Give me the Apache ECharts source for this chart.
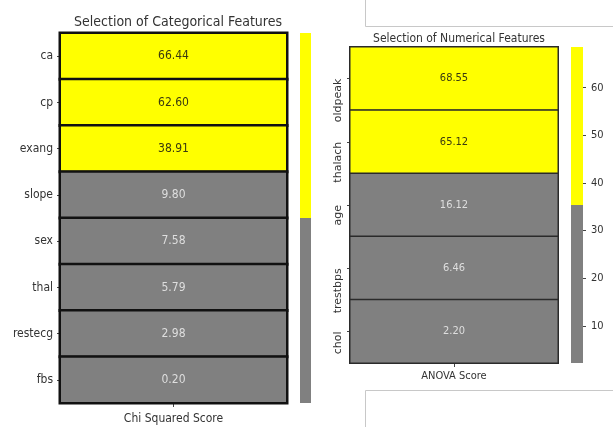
<!DOCTYPE html>
<html>
<head>
<meta charset="utf-8">
<script src="https://cdn.jsdelivr.net/npm/echarts@6/dist/echarts.min.js"></script>
<style>
  html, body { margin: 0; padding: 0; background: #fff; }
  #chart { width: 613px; height: 427px; }
</style>
</head>
<body>
<div id="chart"></div>
<script>
// Chi-squared scores of the categorical features
const catFeatures = ['ca', 'cp', 'exang', 'slope', 'sex', 'thal', 'restecg', 'fbs'];
const catScores = [66.44, 62.60, 38.91, 9.80, 7.58, 5.79, 2.98, 0.20];
const catColumn = ['Chi Squared Score'];

// ANOVA F-scores of the numerical features
const numFeatures = ['oldpeak', 'thalach', 'age', 'trestbps', 'chol'];
const numScores = [68.55, 65.12, 16.12, 6.46, 2.20];
const numColumn = ['ANOVA Score'];
const numBarTicks = [10, 20, 30, 40, 50, 60];

const YELLOW = '#ffff00';
const GRAY = '#808080';
const FONT = 'DejaVu Sans Condensed, DejaVu Sans, sans-serif';
const FONT_V = 'DejaVu Sans, sans-serif';

// two-colour map: values above the midpoint of the range are yellow
function rangeOf(vals) {
  const lo = Math.min(...vals), hi = Math.max(...vals);
  return { lo, hi, mid: (lo + hi) / 2 };
}
const catR = rangeOf(catScores);
const numR = rangeOf(numScores);

function cells(vals, r) {
  return vals.map((v, i) => ({
    value: [0, i, v],
    label: { color: v >= r.mid ? '#3a3a10' : '#dedede' }
  }));
}

const chart = echarts.init(document.getElementById('chart'));

chart.setOption({
  backgroundColor: '#fff',
  animation: false,
  textStyle: { fontFamily: FONT },
  title: [
    { text: 'Selection of Categorical Features', left: 173, top: 10, textAlign: 'center',
      textStyle: { fontSize: 14, fontWeight: 'normal', color: '#333', fontFamily: FONT } },
    { text: 'Selection of Numerical Features', left: 454, top: 28, textAlign: 'center',
      textStyle: { fontSize: 12, fontWeight: 'normal', color: '#333', fontFamily: FONT } }
  ],
  grid: [
    { left: 60, top: 33, width: 227, height: 370, show: true, borderColor: '#222', borderWidth: 1 },
    { left: 300, top: 33, width: 11, height: 370 },
    { left: 350, top: 47, width: 208, height: 316, show: true, borderColor: '#333', borderWidth: 1 },
    { left: 571, top: 47, width: 12, height: 316 }
  ],
  xAxis: [
    { type: 'category', gridIndex: 0, data: catColumn,
      axisLine: { show: false },
      axisTick: { show: true, alignWithLabel: true, length: 4, lineStyle: { color: '#444' } },
      axisLabel: { fontSize: 12, color: '#333', margin: 10, fontFamily: FONT },
      splitLine: { show: false } },
    { type: 'category', gridIndex: 1, data: [''], show: false },
    { type: 'category', gridIndex: 2, data: numColumn,
      axisLine: { show: false },
      axisTick: { show: true, alignWithLabel: true, length: 4, lineStyle: { color: '#444' } },
      axisLabel: { fontSize: 11, color: '#333', margin: 8, fontFamily: FONT },
      splitLine: { show: false } },
    { type: 'category', gridIndex: 3, data: [''], show: false }
  ],
  yAxis: [
    { type: 'category', gridIndex: 0, data: catFeatures, inverse: true,
      axisLine: { show: false },
      axisTick: { show: true, alignWithLabel: true, length: 3, lineStyle: { color: '#444' } },
      axisLabel: { fontSize: 12, color: '#333', margin: 7, fontFamily: FONT },
      splitLine: { show: false } },
    { type: 'value', gridIndex: 1, min: catR.lo, max: catR.hi, show: false },
    { type: 'category', gridIndex: 2, data: numFeatures, inverse: true,
      axisLine: { show: false },
      axisTick: { show: true, alignWithLabel: true, length: 3, lineStyle: { color: '#444' } },
      axisLabel: { fontSize: 11, color: '#333', margin: 12, rotate: 90,
        align: 'right', verticalAlign: 'middle', fontFamily: FONT_V },
      splitLine: { show: false } },
    { type: 'value', gridIndex: 3, min: numR.lo, max: numR.hi, position: 'right',
      axisLine: { show: false },
      splitLine: { show: false },
      axisTick: { show: true, length: 3, customValues: numBarTicks, lineStyle: { color: '#444' } },
      axisLabel: { show: true, customValues: numBarTicks, fontSize: 11, color: '#333',
        margin: 8, fontFamily: FONT } }
  ],
  visualMap: [
    { type: 'piecewise', show: false, seriesIndex: 0, dimension: 2,
      pieces: [{ gte: catR.mid, color: YELLOW }, { lt: catR.mid, color: GRAY }] },
    { type: 'piecewise', show: false, seriesIndex: 3, dimension: 2,
      pieces: [{ gte: numR.mid, color: YELLOW }, { lt: numR.mid, color: GRAY }] }
  ],
  series: [
    // categorical heatmap
    { type: 'heatmap', xAxisIndex: 0, yAxisIndex: 0, data: cells(catScores, catR),
      itemStyle: { borderColor: '#111', borderWidth: 2.5 },
      label: { show: true, fontSize: 12, fontFamily: FONT,
        formatter: p => p.value[2].toFixed(2) },
      emphasis: { disabled: true } },
    // its colour bar
    { type: 'bar', xAxisIndex: 1, yAxisIndex: 1, stack: 'cb1', barWidth: '100%',
      data: [catR.mid], itemStyle: { color: GRAY }, clip: true, silent: true },
    { type: 'bar', xAxisIndex: 1, yAxisIndex: 1, stack: 'cb1', barWidth: '100%',
      data: [catR.hi - catR.mid], itemStyle: { color: YELLOW }, clip: true, silent: true },
    // numerical heatmap
    { type: 'heatmap', xAxisIndex: 2, yAxisIndex: 2, data: cells(numScores, numR),
      itemStyle: { borderColor: '#2a2a2a', borderWidth: 1.5 },
      label: { show: true, fontSize: 11, fontFamily: FONT,
        formatter: p => p.value[2].toFixed(2) },
      emphasis: { disabled: true } },
    // its colour bar
    { type: 'bar', xAxisIndex: 3, yAxisIndex: 3, stack: 'cb2', barWidth: '100%',
      data: [numR.mid], itemStyle: { color: GRAY }, clip: true, silent: true },
    { type: 'bar', xAxisIndex: 3, yAxisIndex: 3, stack: 'cb2', barWidth: '100%',
      data: [numR.hi - numR.mid], itemStyle: { color: YELLOW }, clip: true, silent: true }
  ],
  graphic: [
    // neighbouring notebook output frames
    { type: 'polyline', silent: true,
      shape: { points: [[365.5, 0], [365.5, 26.5], [613, 26.5]] },
      style: { stroke: '#c8c8c8', lineWidth: 1, fill: null } },
    { type: 'polyline', silent: true,
      shape: { points: [[365.5, 427], [365.5, 390.5], [613, 390.5]] },
      style: { stroke: '#c8c8c8', lineWidth: 1, fill: null } }
  ]
});
</script>
</body>
</html>
